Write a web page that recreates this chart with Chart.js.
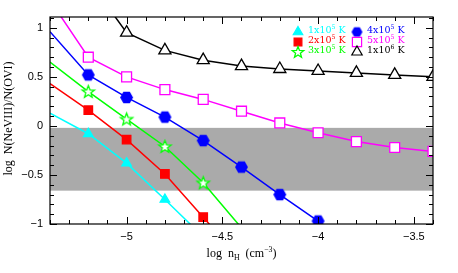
<!DOCTYPE html>
<html>
<head>
<meta charset="utf-8">
<script src="https://cdn.jsdelivr.net/npm/chart.js@4.4.0/dist/chart.umd.min.js"></script>
<style>
html, body { margin: 0; padding: 0; background: #fff; }
#wrap { width: 458px; height: 273px; }
</style>
</head>
<body>
<div id="wrap"><canvas id="grafico"></canvas></div>
<script>
// limites de los ejes
const xMin = -5.4, xMax = -3.4;
const yMin = -1, yMax = 1.11;
const xMajor = [-5, -4.5, -4, -3.5];
const yMajor = [-1, -0.5, 0, 0.5, 1];
// banda gris observada
const banda = [-0.02, -0.66];

// curvas por temperatura (log nH , log N(NeVIII)/N(OVI))
const cyanX = [-5.4, -5.2, -5.0, -4.8, -4.6];
const cyanY = [0.13, -0.08, -0.38, -0.75, -1.13];
const redX = [-5.4, -5.2, -5.0, -4.8, -4.6, -4.4];
const redY = [0.43, 0.16, -0.14, -0.49, -0.93, -1.38];
const greenX = [-5.4, -5.2, -5.0, -4.8, -4.6, -4.4];
const greenY = [0.65, 0.35, 0.07, -0.21, -0.58, -1.04];
const blueX = [-5.4, -5.2, -5.0, -4.8, -4.6, -4.4, -4.2, -4.0, -3.8];
const blueY = [0.96, 0.52, 0.29, 0.09, -0.15, -0.42, -0.70, -0.97, -1.25];
const magX = [-5.4, -5.2, -5.0, -4.8, -4.6, -4.4, -4.2, -4.0, -3.8, -3.6, -3.4];
const magY = [1.28, 0.70, 0.50, 0.37, 0.27, 0.15, 0.03, -0.07, -0.16, -0.22, -0.26];
const blackX = [-5.2, -5.0, -4.8, -4.6, -4.4, -4.2, -4.0, -3.8, -3.6, -3.4];
const blackY = [1.49, 0.95, 0.77, 0.67, 0.61, 0.58, 0.56, 0.54, 0.52, 0.50];

// etiquetas de la leyenda: mantisa, exponente
const tempBase = ['1x10', '2x10', '3x10', '4x10', '5x10', '1x10'];
const tempExp = ['5', '5', '5', '5', '5', '6'];

function puntos(xs, ys) {
    return xs.map((x, i) => ({ x: x, y: ys[i] }));
}

// marcador hexagono relleno
function hexagono(r, color) {
    const c = document.createElement('canvas');
    const s = Math.ceil(2 * r + 4);
    c.width = s; c.height = s;
    const g = c.getContext('2d');
    g.beginPath();
    for (let i = 0; i < 6; i++) {
        const a = Math.PI / 3 * i;
        g.lineTo(s / 2 + r * Math.cos(a), s / 2 + r * Math.sin(a));
    }
    g.closePath();
    g.fillStyle = color;
    g.fill();
    return c;
}

// marcador estrella abierta de 5 puntas
function estrella(R, color) {
    const c = document.createElement('canvas');
    const s = Math.ceil(2 * R + 4);
    c.width = s; c.height = s;
    const g = c.getContext('2d');
    g.beginPath();
    for (let i = 0; i < 10; i++) {
        const rr = i % 2 === 0 ? R : R * 0.42;
        const a = -Math.PI / 2 + Math.PI / 5 * i;
        g.lineTo(s / 2 + rr * Math.cos(a), s / 2 + 0.5 + rr * Math.sin(a));
    }
    g.closePath();
    g.fillStyle = '#fff';
    g.fill();
    g.strokeStyle = color;
    g.lineWidth = 1.3;
    g.stroke();
    return c;
}

const hexAzul = hexagono(6.5, '#0000ff');
const estVerde = estrella(6.5, '#00ff00');
const hexLey = hexagono(5.5, '#0000ff');
const estLey = estrella(6, '#00ff00');

// oculta marcadores fuera del marco
function radio(r) {
    return function (ctx) {
        const p = ctx.raw;
        if (!p || p.x <= xMin + 0.001 || p.y < yMin || p.y > yMax) return 0;
        return r;
    };
}

function serie(xs, ys, color, estilo, r, fondo) {
    return {
        data: puntos(xs, ys),
        borderColor: color,
        borderWidth: 1.5,
        tension: 0,
        pointStyle: estilo,
        pointRadius: radio(r),
        pointBackgroundColor: fondo,
        pointBorderColor: color,
        pointBorderWidth: 1.3
    };
}

const series = [
    serie(blackX, blackY, '#000000', 'triangle', 7, '#ffffff'),
    serie(magX, magY, '#ff00ff', 'rect', 7, '#ffffff'),
    serie(blueX, blueY, '#0000ff', hexAzul, 6.5, '#0000ff'),
    serie(greenX, greenY, '#00ff00', estVerde, 6.5, '#ffffff'),
    serie(redX, redY, '#ff0000', 'rect', 6, '#ff0000'),
    serie(cyanX, cyanY, '#00ffff', 'triangle', 5.5, '#00ffff')
];

// texto con superindice / subindice
function textoPartes(ctx, partes, x, y, size) {
    let cx = x;
    partes.forEach(p => {
        const s = p.mod ? size * 0.65 : size;
        ctx.font = s + 'px ' + p.fam;
        const dy = p.mod === 'sup' ? -size * 0.38 : (p.mod === 'sub' ? size * 0.25 : 0);
        ctx.fillText(p.t, cx, y + dy);
        cx += ctx.measureText(p.t).width;
    });
    return cx - x;
}
function anchoPartes(ctx, partes, size) {
    let w = 0;
    partes.forEach(p => {
        const s = p.mod ? size * 0.65 : size;
        ctx.font = s + 'px ' + p.fam;
        w += ctx.measureText(p.t).width;
    });
    return w;
}

const marco = {
    id: 'marco',
    beforeDatasetsDraw(chart) {
        const { ctx, chartArea: a, scales: { y } } = chart;
        ctx.save();
        ctx.fillStyle = '#aaaaaa';
        const t = y.getPixelForValue(banda[0]);
        const b = y.getPixelForValue(banda[1]);
        ctx.fillRect(a.left, t, a.right - a.left, b - t);
        ctx.restore();
    },
    afterDatasetsDraw(chart) {
        const { ctx, chartArea: a, scales: { x, y } } = chart;
        ctx.save();
        ctx.strokeStyle = '#000';
        ctx.lineWidth = 1.2;
        ctx.strokeRect(a.left, a.top, a.right - a.left, a.bottom - a.top);
        // ticks hacia adentro en los cuatro lados
        ctx.lineWidth = 1;
        ctx.beginPath();
        for (let i = Math.round(xMin * 10); i <= Math.round(xMax * 10); i++) {
            const px = Math.round(x.getPixelForValue(i / 10)) + 0.5;
            const L = i % 5 === 0 ? 7 : 4;
            ctx.moveTo(px, a.bottom); ctx.lineTo(px, a.bottom - L);
            ctx.moveTo(px, a.top); ctx.lineTo(px, a.top + L);
        }
        for (let i = Math.round(yMin * 10); i <= Math.floor(yMax * 10); i++) {
            const py = Math.round(y.getPixelForValue(i / 10)) + 0.5;
            const L = i % 5 === 0 ? 7 : 4;
            ctx.moveTo(a.left, py); ctx.lineTo(a.left + L, py);
            ctx.moveTo(a.right, py); ctx.lineTo(a.right - L, py);
        }
        ctx.stroke();

        // titulos de ejes
        ctx.fillStyle = '#000';
        ctx.textBaseline = 'alphabetic';
        const fam = "'Liberation Serif'";
        const tx = [
            { t: 'log  n', fam: fam },
            { t: 'H', fam: fam, mod: 'sub' },
            { t: '  (cm', fam: fam },
            { t: '\u22123', fam: fam, mod: 'sup' },
            { t: ')', fam: fam }
        ];
        const wx = anchoPartes(ctx, tx, 12);
        textoPartes(ctx, tx, (a.left + a.right) / 2 - wx / 2, 257, 12);

        ctx.save();
        ctx.translate(12, (a.top + a.bottom) / 2 - 2);
        ctx.rotate(-Math.PI / 2);
        ctx.font = "12px 'Liberation Serif'";
        ctx.textAlign = 'center';
        ctx.fillText('log  N(NeVIII)/N(OVI)', 0, 0);
        ctx.restore();

        // leyenda
        const colores = ['#00ffff', '#ff0000', '#00ff00', '#0000ff', '#ff00ff', '#000000'];
        const estilos = [
            { pointStyle: 'triangle', radius: 5.5, fondo: '#00ffff' },
            { pointStyle: 'rect', radius: 5.5, fondo: '#ff0000' },
            { pointStyle: estLey, radius: 6 },
            { pointStyle: hexLey, radius: 5.5 },
            { pointStyle: 'rect', radius: 6.5, fondo: '#ffffff' },
            { pointStyle: 'triangle', radius: 6, fondo: '#ffffff' }
        ];
        const mx = [298, 298, 298, 357, 357, 357];
        const my = [32, 42, 52, 32, 42, 52];
        const lfam = "'DejaVu Serif'";
        for (let i = 0; i < 6; i++) {
            const e = estilos[i];
            ctx.fillStyle = e.fondo || colores[i];
            ctx.strokeStyle = colores[i];
            ctx.lineWidth = 1.2;
            Chart.helpers.drawPoint(ctx, { pointStyle: e.pointStyle, radius: e.radius, rotation: 0, borderWidth: 1.2 }, mx[i], my[i]);
            ctx.fillStyle = colores[i];
            ctx.textBaseline = 'middle';
            textoPartes(ctx, [
                { t: tempBase[i], fam: lfam },
                { t: tempExp[i], fam: lfam, mod: 'sup' },
                { t: ' K', fam: lfam }
            ], mx[i] + 10, my[i] - 1, 9.5);
        }
        ctx.restore();
    }
};

function etiqueta(v) {
    return (v < 0 ? '\u2212' : '') + Math.abs(v);
}

new Chart(document.querySelector('#grafico'), {
    type: 'line',
    data: { datasets: series },
    options: {
        responsive: true,
        maintainAspectRatio: false,
        animation: false,
        layout: { padding: { top: 17, right: 25, left: 0, bottom: 0 } },
        plugins: { legend: { display: false }, tooltip: { enabled: false } },
        scales: {
            x: {
                type: 'linear',
                min: xMin,
                max: xMax,
                grid: { display: false, drawTicks: false },
                border: { display: false },
                afterBuildTicks: s => { s.ticks = xMajor.map(v => ({ value: v })); },
                afterFit: s => { s.height = 49; },
                ticks: {
                    callback: etiqueta,
                    color: '#000',
                    padding: 6,
                    maxRotation: 0,
                    font: { family: "'Liberation Sans'", size: 11 }
                }
            },
            y: {
                type: 'linear',
                min: yMin,
                max: yMax,
                grid: { display: false, drawTicks: false },
                border: { display: false },
                afterBuildTicks: s => { s.ticks = yMajor.map(v => ({ value: v })); },
                afterFit: s => { s.width = 50; },
                ticks: {
                    callback: etiqueta,
                    color: '#000',
                    padding: 7,
                    font: { family: "'Liberation Sans'", size: 11 }
                }
            }
        }
    },
    plugins: [marco]
});
</script>
</body>
</html>
